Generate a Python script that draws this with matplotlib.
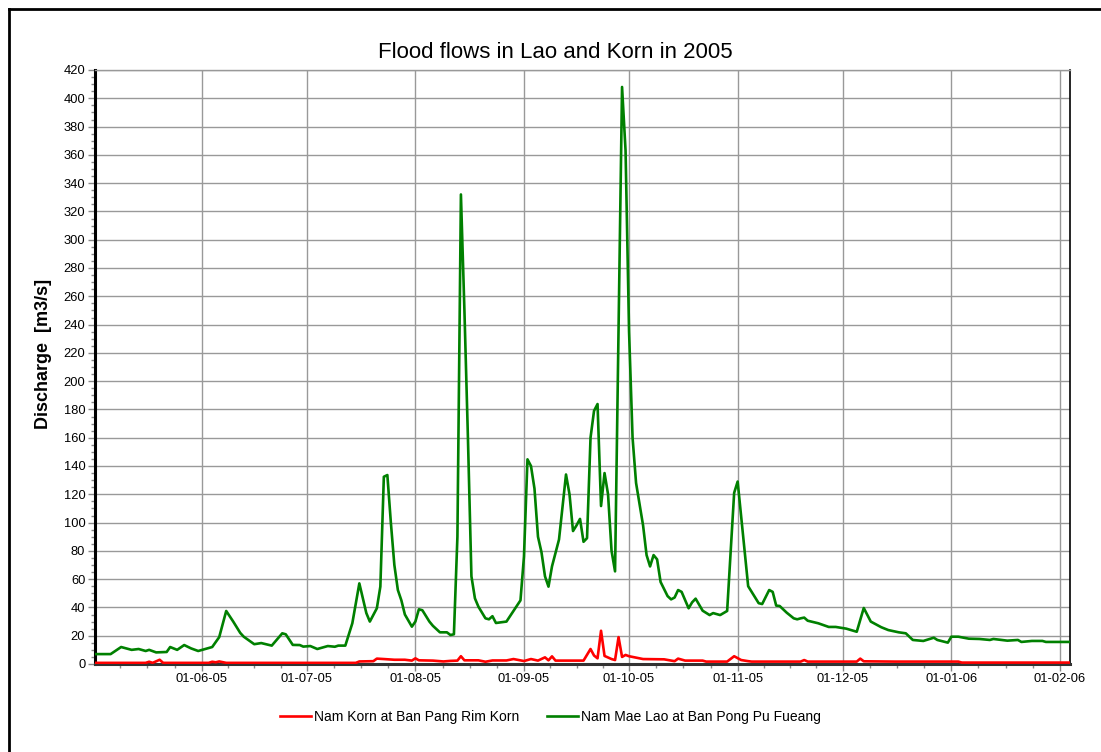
import matplotlib
matplotlib.use("Agg")
import matplotlib.pyplot as plt
import matplotlib.dates as mdates
from matplotlib.lines import Line2D
from matplotlib.ticker import MultipleLocator, FixedLocator
import pandas as pd

# Nam Mae Lao at Ban Pong Pu Fueang (m3/s)
lao_dates = [
    "2005-05-01", "2005-05-06", "2005-05-09", "2005-05-12", "2005-05-14", "2005-05-16",
    "2005-05-17", "2005-05-19", "2005-05-22", "2005-05-23", "2005-05-25", "2005-05-27",
    "2005-05-29", "2005-05-31", "2005-06-04", "2005-06-06", "2005-06-08", "2005-06-10",
    "2005-06-12", "2005-06-13", "2005-06-16", "2005-06-18", "2005-06-21", "2005-06-24",
    "2005-06-25", "2005-06-27", "2005-06-29", "2005-06-30", "2005-07-02", "2005-07-04",
    "2005-07-07", "2005-07-09", "2005-07-10", "2005-07-12", "2005-07-14", "2005-07-16",
    "2005-07-18", "2005-07-19", "2005-07-21", "2005-07-22", "2005-07-23", "2005-07-24",
    "2005-07-25", "2005-07-26", "2005-07-27", "2005-07-28", "2005-07-29", "2005-07-31",
    "2005-08-01", "2005-08-02", "2005-08-03", "2005-08-05", "2005-08-06", "2005-08-08",
    "2005-08-10", "2005-08-11", "2005-08-12", "2005-08-13", "2005-08-14", "2005-08-15",
    "2005-08-16", "2005-08-17", "2005-08-18", "2005-08-19", "2005-08-21", "2005-08-22",
    "2005-08-23", "2005-08-24", "2005-08-27", "2005-08-31", "2005-09-01", "2005-09-02",
    "2005-09-03", "2005-09-04", "2005-09-05", "2005-09-06", "2005-09-07", "2005-09-08",
    "2005-09-09", "2005-09-11", "2005-09-13", "2005-09-14", "2005-09-15", "2005-09-16",
    "2005-09-17", "2005-09-18", "2005-09-19", "2005-09-20", "2005-09-21", "2005-09-22",
    "2005-09-23", "2005-09-24", "2005-09-25", "2005-09-26", "2005-09-27", "2005-09-29",
    "2005-09-30", "2005-10-01", "2005-10-02", "2005-10-03", "2005-10-05", "2005-10-06",
    "2005-10-07", "2005-10-08", "2005-10-09", "2005-10-10", "2005-10-12", "2005-10-13",
    "2005-10-14", "2005-10-15", "2005-10-16", "2005-10-18", "2005-10-19", "2005-10-20",
    "2005-10-22", "2005-10-24", "2005-10-25", "2005-10-27", "2005-10-29", "2005-10-31",
    "2005-11-01", "2005-11-04", "2005-11-07", "2005-11-08", "2005-11-10", "2005-11-11",
    "2005-11-12", "2005-11-13", "2005-11-15", "2005-11-17", "2005-11-18", "2005-11-19",
    "2005-11-20", "2005-11-21", "2005-11-24", "2005-11-27", "2005-11-29", "2005-12-02",
    "2005-12-05", "2005-12-07", "2005-12-09", "2005-12-12", "2005-12-14", "2005-12-17",
    "2005-12-19", "2005-12-21", "2005-12-24", "2005-12-27", "2005-12-28", "2005-12-31",
    "2006-01-01", "2006-01-03", "2006-01-06", "2006-01-09", "2006-01-12", "2006-01-13",
    "2006-01-17", "2006-01-20", "2006-01-21", "2006-01-24", "2006-01-27", "2006-01-28",
    "2006-02-04",
]
lao_flow = [
    7, 7, 12, 10, 10.6, 9.2,
    10, 8.2, 8.5, 12, 10, 13.4,
    11, 9.2, 12, 19, 37.5, 30,
    22, 19.3, 14, 14.8, 13, 21.7,
    21, 13.5, 13.4, 12.3, 12.7, 10.6,
    12.7, 12.2, 13, 13, 28.8, 57,
    36, 30, 39.4, 54.7, 132.4, 133.6,
    100, 70, 52.3, 45, 35, 26.4,
    30, 38.7, 38, 30, 27, 22.4,
    22.4, 20.5, 21, 90, 332, 250,
    160, 62, 46.4, 40.5, 32.3, 31.6,
    33.8, 29, 30, 45, 76, 144.7,
    140, 124, 90, 79, 62, 54.7,
    69, 88, 134, 120, 94, 98,
    102.6, 86.4, 89, 160, 179, 183.8,
    111.7, 135, 120, 80, 65.5, 408,
    363, 235, 160, 128, 98, 77,
    69, 77, 74, 58, 48, 45.7,
    47, 52.3, 51, 39.4, 43.6, 46.2,
    37.7, 34.6, 36, 34.6, 37.5, 121,
    129, 55, 43, 42.4, 52.3, 51,
    41.3, 41, 36.3, 32.3, 31.6, 32.3,
    32.8, 30.6, 28.8, 26.2, 26.2, 25,
    22.8, 39.6, 30, 26, 24, 22.4,
    21.7, 17, 16.3, 18.6, 17, 15.1,
    19.3, 19.3, 17.9, 17.7, 17, 17.7,
    16.5, 17, 15.6, 16.3, 16.3, 15.6,
    15.6,
]

# Nam Korn at Ban Pang Rim Korn (m3/s)
korn_dates = [
    "2005-05-01", "2005-05-16", "2005-05-17", "2005-05-18", "2005-05-20", "2005-05-21",
    "2005-06-03", "2005-06-04", "2005-06-05", "2005-06-06", "2005-06-08", "2005-07-15",
    "2005-07-16", "2005-07-20", "2005-07-21", "2005-07-23", "2005-07-26", "2005-07-29",
    "2005-07-31", "2005-08-01", "2005-08-02", "2005-08-06", "2005-08-09", "2005-08-11",
    "2005-08-13", "2005-08-14", "2005-08-15", "2005-08-19", "2005-08-21", "2005-08-23",
    "2005-08-27", "2005-08-29", "2005-09-01", "2005-09-03", "2005-09-05", "2005-09-07",
    "2005-09-08", "2005-09-09", "2005-09-10", "2005-09-18", "2005-09-20", "2005-09-21",
    "2005-09-22", "2005-09-23", "2005-09-24", "2005-09-26", "2005-09-27", "2005-09-28",
    "2005-09-29", "2005-09-30", "2005-10-01", "2005-10-05", "2005-10-11", "2005-10-14",
    "2005-10-15", "2005-10-17", "2005-10-22", "2005-10-23", "2005-10-29", "2005-10-31",
    "2005-11-02", "2005-11-04", "2005-11-05", "2005-11-19", "2005-11-20", "2005-11-21",
    "2005-12-05", "2005-12-06", "2005-12-07", "2005-12-16", "2006-01-03", "2006-01-04",
    "2006-02-04",
]
korn_flow = [
    0.8, 0.8, 1.6, 0.8, 3, 0.8,
    0.8, 1.6, 1.2, 1.8, 0.8, 0.8,
    1.8, 2, 3.8, 3.5, 3, 3,
    2.4, 4, 2.6, 2.4, 1.8, 2.2,
    2.4, 5.5, 2.6, 2.6, 1.6, 2.5,
    2.5, 3.5, 2.1, 3.5, 2.4, 4.7,
    2.6, 5.4, 2.4, 2.4, 10.6, 6,
    4, 23.5, 5.7, 3.5, 2.8, 19,
    5, 6.4, 5.5, 3.5, 3.3, 2,
    3.8, 2.4, 2.4, 1.7, 1.7, 5.5,
    2.8, 2, 1.7, 1.7, 2.8, 1.7,
    1.7, 3.8, 1.9, 1.7, 1.7, 1.0,
    1.0,
]

title = "Flood flows in Lao and Korn in 2005"
ylabel = "Discharge  [m3/s]"
korn_label = "Nam Korn at Ban Pang Rim Korn"
lao_label = "Nam Mae Lao at Ban Pong Pu Fueang"

plt.rcParams["font.family"] = ["Liberation Sans", "DejaVu Sans"]

W, H = 1101, 752
fig = plt.figure(figsize=(W / 100, H / 100), dpi=100)
ax = fig.add_axes([95 / W, 1 - 664 / H, 975 / W, 594 / H])

lao = pd.Series(lao_flow, index=pd.to_datetime(lao_dates))
korn = pd.Series(korn_flow, index=pd.to_datetime(korn_dates))

ax.plot(korn.index, korn.values, color="#ff0000", lw=1.9, label=korn_label, zorder=4)
ax.plot(lao.index, lao.values, color="#008000", lw=1.9, label=lao_label, zorder=3)

ax.set_xlim(pd.Timestamp("2005-05-01 13:00"), pd.Timestamp("2006-02-03 21:00"))
ax.set_ylim(0, 420)

# month gridlines with quarter-month minor ticks
months = pd.date_range("2005-05-01", "2006-03-01", freq="MS")
minor = []
for a, b in zip(months[:-1], months[1:]):
    for k in range(4):
        minor.append(mdates.date2num(a + (b - a) * k / 4))
ax.xaxis.set_major_locator(mdates.MonthLocator())
ax.xaxis.set_major_formatter(mdates.DateFormatter("%d-%m-%y"))
ax.xaxis.set_minor_locator(FixedLocator(minor))
ax.yaxis.set_major_locator(MultipleLocator(20))
ax.yaxis.set_minor_locator(MultipleLocator(5))

ax.grid(True, which="major", color="#999999", lw=1.0, zorder=0)
ax.tick_params(axis="both", which="major", direction="out", length=5, width=1,
               color="#888888", labelsize=9.3, labelcolor="#000000", pad=2)
ax.tick_params(axis="both", which="minor", direction="out", length=3, width=1,
               color="#888888")
ax.tick_params(axis="x", pad=1.5)

ax.spines["left"].set_linewidth(2.2)
ax.spines["left"].set_color("#000000")
ax.spines["bottom"].set_linewidth(2.2)
ax.spines["bottom"].set_color("#333333")
ax.spines["top"].set_linewidth(1.0)
ax.spines["top"].set_color("#999999")
ax.spines["right"].set_linewidth(1.2)
ax.spines["right"].set_color("#000000")

fig.text(555 / W, 1 - 53 / H, title, fontsize=16, ha="center", va="center")
ax.set_ylabel(ylabel, fontsize=13, fontweight="bold")
ax.yaxis.set_label_coords((52 - 95) / 975, (664 - 354) / 594)

fig.legend(loc="center", bbox_to_anchor=(0.5, 1 - 717 / H), ncol=2, frameon=False,
           handlelength=2.2, columnspacing=2.0, handletextpad=0.25,
           prop={"family": ["Liberation Sans Narrow", "Liberation Sans"], "size": 10})

# frame lines along the top and left edge of the figure
fig.add_artist(Line2D([9 / W, 9 / W], [0, 1 - 9 / H], transform=fig.transFigure,
                      color="black", lw=2))
fig.add_artist(Line2D([9 / W, 1], [1 - 9 / H, 1 - 9 / H], transform=fig.transFigure,
                      color="black", lw=2))

fig.savefig("out.png", dpi=100)
